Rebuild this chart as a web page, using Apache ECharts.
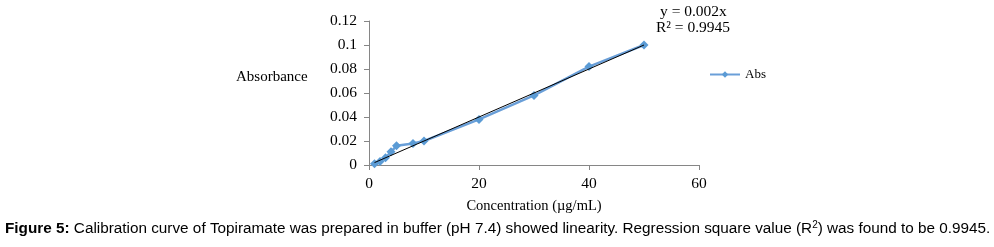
<!DOCTYPE html>
<html>
<head>
<meta charset="utf-8">
<script src="https://cdn.jsdelivr.net/npm/echarts@6/dist/echarts.min.js"></script>
<style>
  body { margin: 0; background: #fff; }
  #chart { width: 994px; height: 247px; }
</style>
</head>
<body>
<div id="chart"></div>
<script>
// concentration (µg/mL) and absorbance
var concentration = [1, 2, 3, 4, 5, 8, 10, 20, 30, 40, 50];
var absorbance = [0.001, 0.003, 0.006, 0.011, 0.016, 0.018, 0.020, 0.038, 0.058, 0.082, 0.100];
// trendline y = 0.002x over the data range
var trendX = [1, 50];
var trendY = [0.002, 0.1];
var yTicks = [0, 0.02, 0.04, 0.06, 0.08, 0.1, 0.12];
var xTicks = [0, 20, 40, 60];

var serif = 'Liberation Serif';
var chart = echarts.init(document.getElementById('chart'));

var option = {
  animation: false,
  backgroundColor: '#fff',
  textStyle: { fontFamily: serif, color: '#000' },
  grid: { left: 369, right: 295, top: 21, bottom: 82, containLabel: false },
  legend: {
    data: ['Abs'],
    left: 704, top: 63,
    itemWidth: 30, itemHeight: 8, itemGap: 6,
    textStyle: { fontFamily: serif, fontSize: 13, color: '#000' }
  },
  xAxis: {
    type: 'value', min: xTicks[0], max: xTicks[xTicks.length - 1], interval: 20,
    name: 'Concentration (µg/mL)', nameLocation: 'middle', nameGap: 34,
    nameTextStyle: { fontFamily: serif, fontSize: 14.5, color: '#000' },
    axisLine: { lineStyle: { color: '#868686' } },
    axisTick: { show: true, length: 5, lineStyle: { color: '#868686' } },
    axisLabel: { fontFamily: serif, fontSize: 15.5, color: '#000', margin: 11 },
    splitLine: { show: false }
  },
  yAxis: {
    type: 'value', min: yTicks[0], max: yTicks[yTicks.length - 1], interval: 0.02,
    axisLine: { show: true, lineStyle: { color: '#868686' } },
    axisTick: { show: true, length: 5, lineStyle: { color: '#868686' } },
    axisLabel: { fontFamily: serif, fontSize: 15.5, color: '#000', margin: 12 },
    splitLine: { show: false }
  },
  graphic: [
    { type: 'text', left: 236, top: 70,
      style: { text: 'Absorbance', font: '15px ' + serif, fill: '#000' } },
    { type: 'text', left: 660, top: 4,
      style: { text: 'y = 0.002x', font: '15.5px ' + serif, fill: '#000' } },
    { type: 'text', left: 656, top: 20,
      style: { text: 'R² = 0.9945', font: '15.5px ' + serif, fill: '#000' } }
  ],
  title: {
    left: 5, top: 220, padding: 0,
    text: '{b|Figure 5:} Calibration curve of Topiramate was prepared in buffer (pH 7.4) showed linearity. Regression square value (R{s|2}) was found to be 0.9945.',
    textStyle: {
      fontFamily: 'Liberation Sans', fontSize: 15.3, fontWeight: 'normal', color: '#000',
      rich: {
        b: { fontFamily: 'Liberation Sans', fontSize: 15.3, fontWeight: 'bold', color: '#000' },
        s: { fontFamily: 'Liberation Sans', fontSize: 10, color: '#000', verticalAlign: 'top', padding: [0, 0, 7, 0] }
      }
    }
  },
  series: [
    {
      name: 'Abs', type: 'line',
      data: concentration.map(function (c, i) { return [c, absorbance[i]]; }),
      symbol: 'diamond', symbolSize: 9, showAllSymbol: true,
      lineStyle: { color: '#6A9FD8', width: 2.5 },
      itemStyle: { color: '#5B9BD5' },
      z: 2
    },
    {
      name: 'trend', type: 'line',
      data: trendX.map(function (x, i) { return [x, trendY[i]]; }),
      symbol: 'none', silent: true,
      lineStyle: { color: '#000', width: 1 },
      z: 3
    }
  ]
};

chart.setOption(option);
</script>
</body>
</html>
